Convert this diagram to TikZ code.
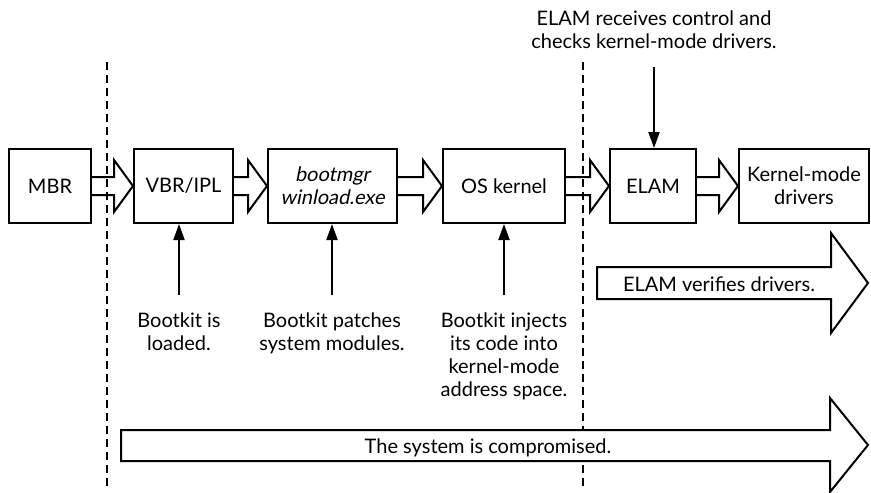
\documentclass[tikz,border=0pt]{standalone}
\usepackage{fontspec}
\setmainfont{Lato}
\newfontfamily\slantfont{Lato}[FakeSlant=0.2]
\usetikzlibrary{arrows.meta,calc}

\tikzset{
    stage/.style={draw, line width=2pt, minimum height=74pt, inner sep=0pt,
        align=center, font=\fontsize{20}{23}\selectfont},
    note/.style={align=center, inner sep=0pt, font=\fontsize{20}{23}\selectfont},
    hollow/.style={draw, line width=2pt, line join=miter},
    banner/.style={draw, line width=2pt, fill=white, line join=miter},
    boundary/.style={line width=2pt, dash pattern=on 8pt off 5pt},
    pointer/.style={line width=2pt, -{Triangle[length=16pt,width=11pt]}, shorten <=18pt}
}

\begin{document}
\begin{tikzpicture}[x=1pt,y=-1pt]
    \useasboundingbox (0,0) rectangle (871,493);
    % boot chain
    \node[stage, minimum width=82] (mbr) at (50,186) {MBR};
    \node[stage, minimum width=99] (vbr) at (183.5,186) {VBR/IPL};
    \node[stage, minimum width=129] (boot) at (332.5,186) {\slantfont bootmgr\\\slantfont winload.exe};
    \node[stage, minimum width=122] (kern) at (504,186) {OS kernel};
    \node[stage, minimum width=86] (elam) at (653,186) {ELAM};
    \node[stage, minimum width=130] (kmd) at (804,186) {Kernel-mode\\drivers};

    \foreach \a/\b in {mbr/vbr, vbr/boot, boot/kern, kern/elam, elam/kmd} {
        \draw[hollow] let \p1 = (\a.east), \p2 = (\b.west) in
            (\x1,\y1+9pt) -- (\x2-19pt,\y1+9pt) -- (\x2-19pt,\y1+26pt) -- (\x2,\y1)
            -- (\x2-19pt,\y1-26pt) -- (\x2-19pt,\y1-9pt) -- (\x1,\y1-9pt);
    }

    % dashed boundaries
    \foreach \x in {107,583} {
        \draw[boundary] (\x,62) -- (\x,487);
    }

    % long arrows
    \draw[banner] (597,267) -- (831,267) -- (831,233) -- (868,283) -- (831,333)
        -- (831,299) -- (597,299) -- cycle;
    \draw[banner] (121,430) -- (830,430) -- (830,398) -- (868,445) -- (830,492)
        -- (830,461) -- (121,461) -- cycle;
    \node[note, anchor=base] (verify) at (719,291) {ELAM verifies drivers.};
    \node[note, anchor=base] (compromised) at (488,453) {The system is compromised.};

    % notes
    \node[note, anchor=north] (vbrnote) at (179,313) {Bootkit is\\loaded.};
    \node[note, anchor=north] (bootnote) at (332,313) {Bootkit patches\\system modules.};
    \node[note, anchor=north] (kernnote) at (504,313) {Bootkit injects\\its code into\\kernel-mode\\address space.};
    \node[note, anchor=north] (elamnote) at (654,11) {ELAM receives control and\\checks kernel-mode drivers.};

    \foreach \n/\t in {vbrnote/vbr, bootnote/boot, kernnote/kern} {
        \draw[pointer] (\n.north) -- (\n.north |- \t.south);
    }
    \draw[pointer] (elamnote.south) -- (elamnote.south |- elam.north);
\end{tikzpicture}
\end{document}
